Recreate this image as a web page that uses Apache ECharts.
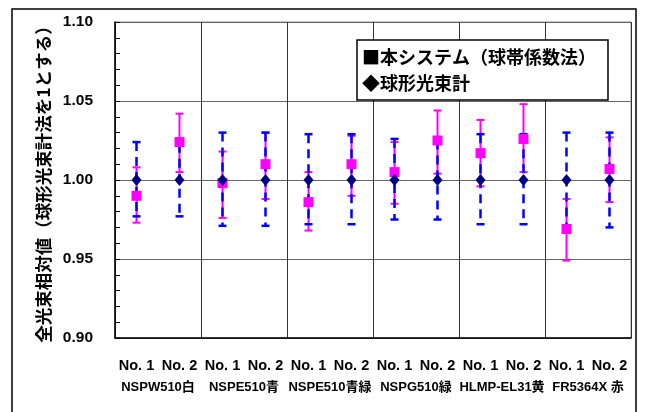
<!DOCTYPE html>
<html>
<head>
<meta charset="utf-8">
<script src="https://cdn.jsdelivr.net/npm/echarts@6/dist/echarts.min.js"></script>
<style>
  html, body { margin: 0; padding: 0; background: #fff; }
  #chart { width: 645px; height: 412px; }
</style>
</head>
<body>
<div id="chart"></div>
<script>
// 12 measurement points, two per LED
const categories = ['No. 1', 'No. 2', 'No. 1', 'No. 2', 'No. 1', 'No. 2',
  'No. 1', 'No. 2', 'No. 1', 'No. 2', 'No. 1', 'No. 2'];
const groups = ['NSPW510白', 'NSPE510青', 'NSPE510青緑', 'NSPG510緑', 'HLMP-EL31黄', 'FR5364X 赤'];
const yTicks = [0.90, 0.95, 1.00, 1.05, 1.10];

const sysName = '本システム（球帯係数法）';
const sphereName = '球形光束計';

// 本システム
const sysValues = [0.990, 1.024, 0.998, 1.010, 0.986, 1.010, 1.005, 1.025, 1.017, 1.026, 0.969, 1.007];
const sysLow    = [0.973, 1.005, 0.976, 0.988, 0.968, 0.990, 0.985, 1.004, 0.996, 1.005, 0.949, 0.986];
const sysHigh   = [1.008, 1.042, 1.018, 1.030, 1.005, 1.028, 1.024, 1.044, 1.038, 1.048, 0.988, 1.027];

// 球形光束計 (reference = 1)
const sphereValues = [1, 1, 1, 1, 1, 1, 1, 1, 1, 1, 1, 1];
const sphereLow    = [0.977, 0.977, 0.971, 0.971, 0.972, 0.972, 0.975, 0.975, 0.972, 0.972, 0.970, 0.970];
const sphereHigh   = [1.024, 1.023, 1.030, 1.030, 1.029, 1.029, 1.026, 1.025, 1.029, 1.029, 1.030, 1.030];

const latin = '"Liberation Sans", Arial, "Noto Sans CJK JP", sans-serif';
const jp = '"Noto Sans CJK JP", sans-serif';

function errorBar(color, width, dash) {
  return function (params, api) {
    const x = api.value(0);
    const top = api.coord([x, api.value(2)]);
    const bot = api.coord([x, api.value(1)]);
    const hw = 4;
    const cap = { stroke: color, lineWidth: width };
    return {
      type: 'group',
      children: [
        { type: 'line', shape: { x1: top[0], y1: top[1], x2: bot[0], y2: bot[1] },
          style: { stroke: color, lineWidth: width, lineDash: dash } },
        { type: 'line', shape: { x1: top[0] - hw, y1: top[1], x2: top[0] + hw, y2: top[1] }, style: cap },
        { type: 'line', shape: { x1: bot[0] - hw, y1: bot[1], x2: bot[0] + hw, y2: bot[1] }, style: cap }
      ]
    };
  };
}

const chart = echarts.init(document.getElementById('chart'), null, { renderer: 'canvas' });

const option = {
  animation: false,
  backgroundColor: '#fff',
  graphic: [{
    type: 'rect', z: 0,
    shape: { x: 12, y: 9, width: 624, height: 420 },
    style: { fill: 'none', stroke: '#000', lineWidth: 1.5 }
  }],
  grid: {
    left: 115, top: 22, width: 516, height: 316,
    show: true, borderColor: '#888', borderWidth: 1, backgroundColor: 'transparent'
  },
  legend: {
    data: [sysName, sphereName],
    orient: 'vertical',
    left: 357, top: 40,
    icon: 'none',
    itemWidth: 0, itemHeight: 0,
    itemGap: 4,
    padding: [6, 12, 6, 0],
    backgroundColor: '#fff',
    borderColor: '#000', borderWidth: 1.5,
    selectedMode: false,
    formatter: name => (name === sysName ? '■' : '◆') + name,
    textStyle: { color: '#000', fontSize: 18, fontWeight: 'bold', fontFamily: jp, lineHeight: 22 }
  },
  xAxis: [{
    type: 'category',
    data: categories,
    position: 'bottom',
    axisLine: { lineStyle: { color: '#000', width: 1.5 } },
    axisTick: { show: false },
    splitLine: { show: false },
    axisLabel: { interval: 0, margin: 21, color: '#000', fontSize: 14.5, fontWeight: 'bold', fontFamily: latin }
  }, {
    type: 'category',
    data: groups,
    position: 'bottom',
    axisLine: { show: false },
    axisTick: { show: false },
    splitLine: { show: true, interval: 0, lineStyle: { color: '#333', width: 1 } },
    axisLabel: { interval: 0, margin: 43, color: '#000', fontSize: 13, fontWeight: 'bold', fontFamily: latin }
  }],
  yAxis: {
    type: 'value',
    min: yTicks[0], max: yTicks[yTicks.length - 1], interval: 0.05,
    name: '全光束相対値（球形光束計法を1とする）',
    nameLocation: 'middle',
    nameRotate: 90,
    nameGap: 60,
    nameTextStyle: { color: '#000', fontSize: 17.5, fontWeight: 'bold', fontFamily: jp },
    axisLine: { show: true, lineStyle: { color: '#000', width: 1.5 } },
    axisTick: { show: true, inside: true, length: 5, lineStyle: { color: '#000' } },
    minorTick: { show: true, splitNumber: 5, length: 5, lineStyle: { color: '#000' } },
    splitLine: { show: true, lineStyle: { color: '#666', width: 1 } },
    axisLabel: {
      margin: 22, color: '#000', fontSize: 15.5, fontWeight: 'bold',
      fontFamily: '"Liberation Sans", Arial, sans-serif',
      formatter: v => v.toFixed(2)
    }
  },
  series: [{
    type: 'custom',
    name: 'sysErr',
    z: 2,
    renderItem: errorBar('#ff00ff', 2, null),
    encode: { x: 0, y: [1, 2] },
    data: sysValues.map((v, i) => [i, sysLow[i], sysHigh[i]])
  }, {
    type: 'custom',
    name: 'sphereErr',
    z: 3,
    renderItem: errorBar('#0000ff', 2.5, [9, 6]),
    encode: { x: 0, y: [1, 2] },
    data: sphereValues.map((v, i) => [i, sphereLow[i], sphereHigh[i]])
  }, {
    type: 'scatter',
    name: sysName,
    z: 4,
    symbol: 'rect',
    symbolSize: 10,
    itemStyle: { color: '#ff00ff', opacity: 1 },
    data: sysValues
  }, {
    type: 'scatter',
    name: sphereName,
    z: 5,
    symbol: 'diamond',
    symbolSize: [10, 12],
    itemStyle: { color: '#000080', opacity: 1 },
    data: sphereValues
  }]
};

chart.setOption(option);
</script>
</body>
</html>
